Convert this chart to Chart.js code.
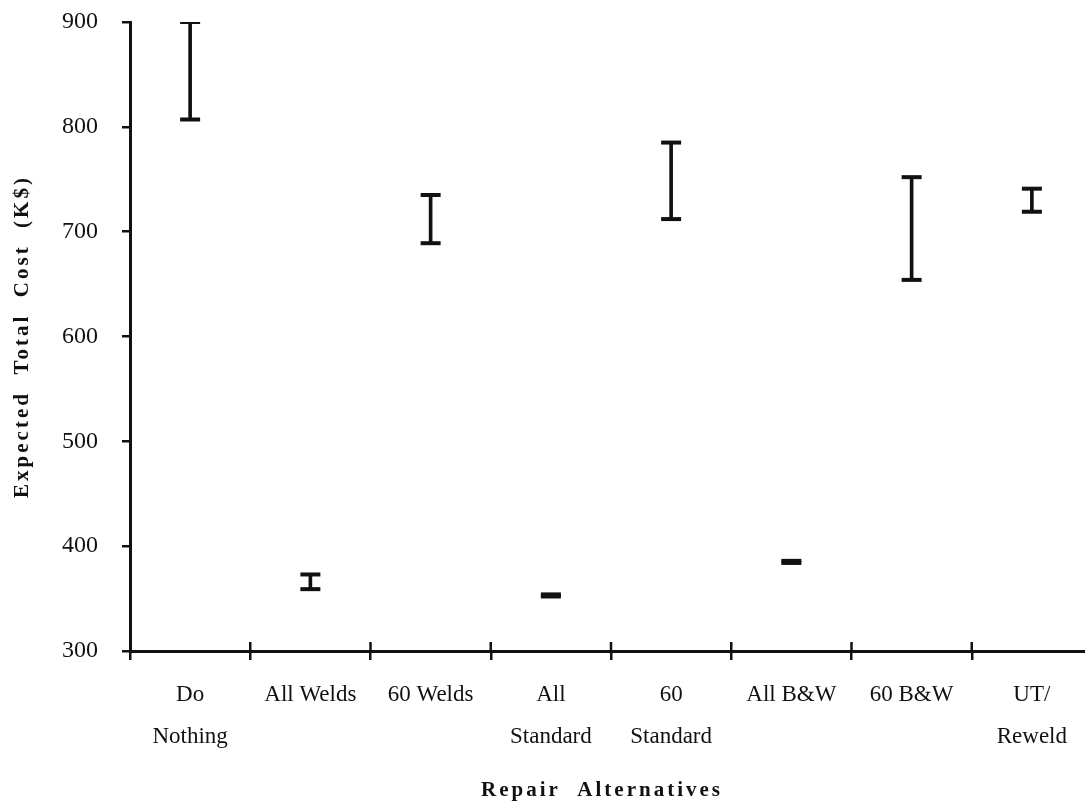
<!DOCTYPE html>
<html>
<head>
<meta charset="utf-8">
<script src="https://cdn.jsdelivr.net/npm/chart.js@4.4.1/dist/chart.umd.min.js"></script>
<style>
  html, body { margin: 0; padding: 0; background: #fff; overflow: hidden; width: 1085px; height: 806px; }
  canvas { display: block; }
</style>
</head>
<body>
<canvas id="c" width="1092" height="806" style="width:1092px;height:806px"></canvas>
<script>
const categories = [["Do", "Nothing"], "All Welds", "60 Welds", ["All", "Standard"], ["60", "Standard"], "All B&W", "60 B&W", ["UT/", "Reweld"]];
const lowValues  = [807, 359, 689, 352, 712, 384, 654, 719];
const highValues = [900, 373, 735, 354, 785, 386, 752, 741];
const yMin = 300, yMax = 900, yStep = 100;
const xTitle = "Repair  Alternatives";
const yTitle = "Expected  Total  Cost  (K$)";

const INK = '#111';
const SERIF = "'Liberation Serif', 'Times New Roman', serif";

// upward half of the category boundary ticks on the x axis
const crossTicks = {
  id: 'crossTicks',
  afterDraw(chart) {
    const xs = chart.scales.x;
    const ctx = chart.ctx;
    const y0 = chart.chartArea.bottom;
    ctx.save();
    ctx.strokeStyle = INK;
    ctx.lineWidth = 2.5;
    for (let i = 1; i < categories.length; i++) {
      const x = (xs.getPixelForValue(i - 1) + xs.getPixelForValue(i)) / 2;
      ctx.beginPath();
      ctx.moveTo(x, y0 - 9);
      ctx.lineTo(x, y0);
      ctx.stroke();
    }
    ctx.restore();
  }
};

// letter-spaced axis titles (x title nudged left to match the original)
const spacedTitles = {
  id: 'spacedTitles',
  beforeDraw(chart) {
    Object.values(chart.scales).forEach(s => {
      if (s._spacedPatched) return;
      const orig = s.drawTitle.bind(s);
      const dx = s.axis === 'x' ? -9 : 0;
      s.drawTitle = function () {
        const ctx = this.ctx;
        ctx.save();
        try { ctx.letterSpacing = '3px'; } catch (e) {}
        ctx.translate(dx, 0);
        orig();
        ctx.restore();
      };
      s._spacedPatched = true;
    });
  }
};

new Chart(document.getElementById('c'), {
  data: {
    labels: categories,
    datasets: [
      {
        type: 'bar',
        data: lowValues.map((v, i) => [v, highValues[i]]),
        backgroundColor: INK,
        borderWidth: 0,
        barThickness: 3,
        grouped: false,
        order: 2
      },
      {
        type: 'line',
        data: lowValues,
        showLine: false,
        pointStyle: 'line',
        pointRadius: 10,
        pointHoverRadius: 10,
        borderColor: INK,
        pointBorderWidth: 4,
        borderWidth: 4,
        order: 1
      },
      {
        type: 'line',
        data: highValues,
        showLine: false,
        pointStyle: 'line',
        pointRadius: 10,
        pointHoverRadius: 10,
        borderColor: INK,
        pointBorderWidth: 4,
        borderWidth: 4,
        order: 1
      }
    ]
  },
  options: {
    responsive: false,
    animation: false,
    events: [],
    layout: { autoPadding: false, padding: { top: 22, right: 0, bottom: 0, left: 0 } },
    plugins: { legend: { display: false }, tooltip: { enabled: false } },
    scales: {
      x: {
        type: 'category',
        offset: true,
        border: { display: true, color: INK, width: 3 },
        grid: { display: true, offset: true, drawOnChartArea: false, drawTicks: true, tickLength: 9, color: INK, lineWidth: 2.5 },
        ticks: {
          color: INK,
          font: { family: SERIF, size: 23, lineHeight: 1.83 },
          padding: 14,
          maxRotation: 0,
          autoSkip: false
        },
        title: {
          display: true,
          text: xTitle,
          color: INK,
          font: { family: SERIF, size: 21, weight: 'bold', lineHeight: 1.2 },
          padding: { top: 0, bottom: 3 }
        },
        afterFit(scale) { scale.height = 155; scale.paddingLeft = 0; scale.paddingRight = 0; }
      },
      y: {
        type: 'linear',
        min: yMin,
        max: yMax,
        border: { display: true, color: INK, width: 3 },
        grid: { display: true, drawOnChartArea: false, drawTicks: true, tickLength: 8, color: INK, lineWidth: 2.5 },
        ticks: {
          stepSize: yStep,
          color: INK,
          font: { family: SERIF, size: 24 },
          padding: 24
        },
        title: {
          display: true,
          text: yTitle,
          color: INK,
          font: { family: SERIF, size: 21, weight: 'bold', lineHeight: 1.2 },
          padding: { top: 10, bottom: 0 }
        },
        afterFit(scale) { scale.width = 130; scale.paddingTop = 0; scale.paddingBottom = 0; }
      }
    }
  },
  plugins: [crossTicks, spacedTitles]
});
</script>
</body>
</html>
